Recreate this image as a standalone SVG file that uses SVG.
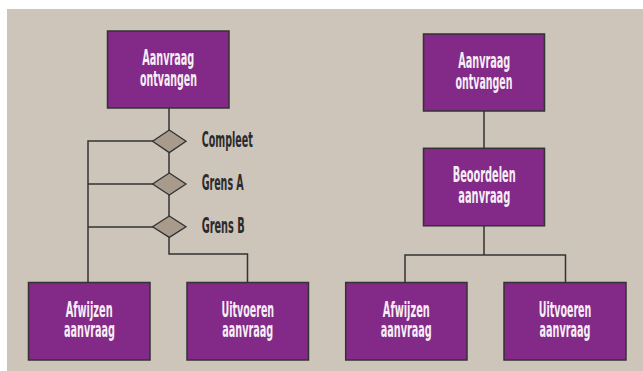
<svg xmlns="http://www.w3.org/2000/svg" width="643" height="371" viewBox="0 0 643 371">
<style>
.bg{fill:#cdc4ba}
.box{fill:#832987;stroke:#333;stroke-width:1.5}
.dia{fill:#a99b8b;stroke:#333;stroke-width:1.3}
.ln{fill:none;stroke:#333;stroke-width:1.5}
text{font-family:'DejaVu Sans Condensed','DejaVu Sans',sans-serif;font-stretch:condensed;font-weight:bold;font-size:20.5px}
.w{fill:#f6eef6}
.k{fill:#2b2b2b}
</style>
<rect x="0" y="0" width="643" height="371" fill="#ffffff"/>
<rect class="bg" x="7" y="9" width="636" height="362"/>
<g id="connectors">
<path class="ln" d="M169 108 V130 M169 153 V173 M169 195 V216 M169 237 V254 H247.5 V282"/>
<path class="ln" d="M153 141 H88 V282 M153 184 H88 M153 227 H88"/>
<path class="ln" d="M484 111 V148 M484 226 V255 M405 282 V255 H565.5 V282"/>
</g>
<g id="n-left-start">
<rect class="box" x="107.5" y="31" width="121.5" height="77"/>
<text class="w" x="142.3" y="64.5" textLength="52" lengthAdjust="spacingAndGlyphs">Aanvraag</text>
<text class="w" x="140" y="86" textLength="57" lengthAdjust="spacingAndGlyphs">ontvangen</text>
</g>
<g id="d-compleet">
<polygon class="dia" points="169.3,130 186,141.3 169.3,152.6 152.6,141.3"/>
<text class="k" x="201.7" y="147.3" textLength="51" lengthAdjust="spacingAndGlyphs">Compleet</text>
</g>
<g id="d-grensA">
<polygon class="dia" points="169.3,173 186,184 169.3,195 152.6,184"/>
<text class="k" x="201.7" y="190" textLength="42" lengthAdjust="spacingAndGlyphs">Grens A</text>
</g>
<g id="d-grensB">
<polygon class="dia" points="169.3,216 186,226.7 169.3,237.4 152.6,226.7"/>
<text class="k" x="201.7" y="232.7" textLength="43" lengthAdjust="spacingAndGlyphs">Grens B</text>
</g>
<g id="n-left-afwijzen">
<rect class="box" x="28.5" y="282.5" width="121.5" height="77.5"/>
<text class="w" x="65.7" y="316.7" textLength="47" lengthAdjust="spacingAndGlyphs">Afwijzen</text>
<text class="w" x="64" y="337" textLength="51" lengthAdjust="spacingAndGlyphs">aanvraag</text>
</g>
<g id="n-left-uitvoeren">
<rect class="box" x="187" y="282.5" width="121.5" height="77.5"/>
<text class="w" x="221.5" y="316.7" textLength="52.6" lengthAdjust="spacingAndGlyphs">Uitvoeren</text>
<text class="w" x="222.3" y="337" textLength="51" lengthAdjust="spacingAndGlyphs">aanvraag</text>
</g>
<g id="n-right-start">
<rect class="box" x="423.5" y="34" width="121" height="77"/>
<text class="w" x="458.3" y="67.5" textLength="52" lengthAdjust="spacingAndGlyphs">Aanvraag</text>
<text class="w" x="455.5" y="89" textLength="57" lengthAdjust="spacingAndGlyphs">ontvangen</text>
</g>
<g id="n-right-beoordelen">
<rect class="box" x="423.5" y="148.3" width="121" height="77.5"/>
<text class="w" x="452.7" y="181.7" textLength="63" lengthAdjust="spacingAndGlyphs">Beoordelen</text>
<text class="w" x="458.3" y="203" textLength="52" lengthAdjust="spacingAndGlyphs">aanvraag</text>
</g>
<g id="n-right-afwijzen">
<rect class="box" x="345.7" y="282.5" width="121.3" height="77.5"/>
<text class="w" x="382.8" y="316.7" textLength="47" lengthAdjust="spacingAndGlyphs">Afwijzen</text>
<text class="w" x="380.8" y="337" textLength="51" lengthAdjust="spacingAndGlyphs">aanvraag</text>
</g>
<g id="n-right-uitvoeren">
<rect class="box" x="504" y="282.5" width="122" height="77.5"/>
<text class="w" x="538.7" y="316.7" textLength="52.6" lengthAdjust="spacingAndGlyphs">Uitvoeren</text>
<text class="w" x="539.5" y="337" textLength="51" lengthAdjust="spacingAndGlyphs">aanvraag</text>
</g>
</svg>
